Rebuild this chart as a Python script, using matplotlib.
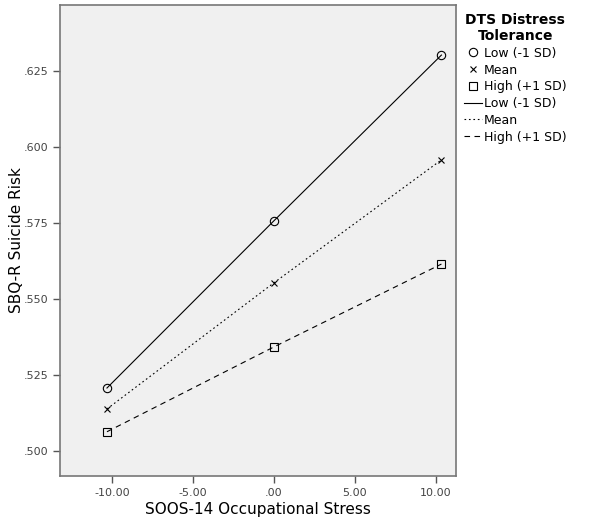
import matplotlib
matplotlib.use("Agg")
import matplotlib.pyplot as plt
from matplotlib.lines import Line2D

plt.rcParams["font.family"] = ["DejaVu Sans"]

# stress levels (-1 SD, mean, +1 SD)
stress = [-10.3, 0.0, 10.35]
low_dt = [0.5207, 0.5757, 0.6303]
mean_dt = [0.5138, 0.5553, 0.5958]
high_dt = [0.5063, 0.5342, 0.5615]

group_names = ["Low (-1 SD)", "Mean", "High (+1 SD)"]
x_ticks = [-10, -5, 0, 5, 10]
x_tick_labels = ["-10.00", "-5.00", ".00", "5.00", "10.00"]
y_ticks = [0.500, 0.525, 0.550, 0.575, 0.600, 0.625]
y_tick_labels = [".500", ".525", ".550", ".575", ".600", ".625"]

fig = plt.figure(figsize=(6.0, 5.24), dpi=100)
ax = fig.add_axes([0.1, 0.092, 0.66, 0.898])
ax.set_facecolor("#f0f0f0")

styles = [("o", "-"), ("x", (0, (1.5, 2.5))), ("s", (0, (5, 4)))]
series = [low_dt, mean_dt, high_dt]
for ys, (mk, ls) in zip(series, styles):
    ax.plot(stress, ys, color="black", linestyle=ls, linewidth=0.8)
    if mk == "x":
        ax.plot(stress, ys, linestyle="none", marker="x", color="black",
                markersize=5, markeredgewidth=0.8)
    else:
        ax.plot(stress, ys, linestyle="none", marker=mk, markerfacecolor="none",
                markeredgecolor="black", markersize=6, markeredgewidth=0.8)

ax.set_xlim(-13.2, 11.25)
ax.set_ylim(0.4918, 0.6467)
ax.set_xticks(x_ticks)
ax.set_xticklabels(x_tick_labels)
ax.set_yticks(y_ticks)
ax.set_yticklabels(y_tick_labels)
ax.tick_params(axis="both", direction="out", length=5, width=1, color="#555555",
               labelsize=8, labelcolor="#444444")
for sp in ax.spines.values():
    sp.set_color("#777777")
    sp.set_linewidth(1.2)

ax.set_xlabel("SOOS-14 Occupational Stress", fontsize=11)
ax.set_ylabel("SBQ-R Suicide Risk", fontsize=11)
ax.xaxis.set_label_coords(0.5, -0.055)
ax.yaxis.set_label_coords(-0.09, 0.5)

handles = []
for name, (mk, ls) in zip(group_names, styles):
    handles.append(Line2D([], [], linestyle="none", marker=mk, color="black",
                          markerfacecolor="none", markersize=6 if mk != "x" else 5,
                          markeredgewidth=0.8, label=name))
for name, (mk, ls) in zip(group_names, styles):
    handles.append(Line2D([], [], linestyle=ls, color="black", linewidth=0.8, label=name))

leg = fig.legend(handles=handles, loc="upper left", bbox_to_anchor=(0.765, 0.985),
                 frameon=False, fontsize=9, title="DTS Distress\nTolerance",
                 handlelength=1.4, handletextpad=0.2, labelspacing=0.3,
                 borderaxespad=0)
leg.get_title().set_fontweight("bold")
leg.get_title().set_fontsize(10)
leg.get_title().set_multialignment("center")

fig.savefig("out.png", dpi=100)
